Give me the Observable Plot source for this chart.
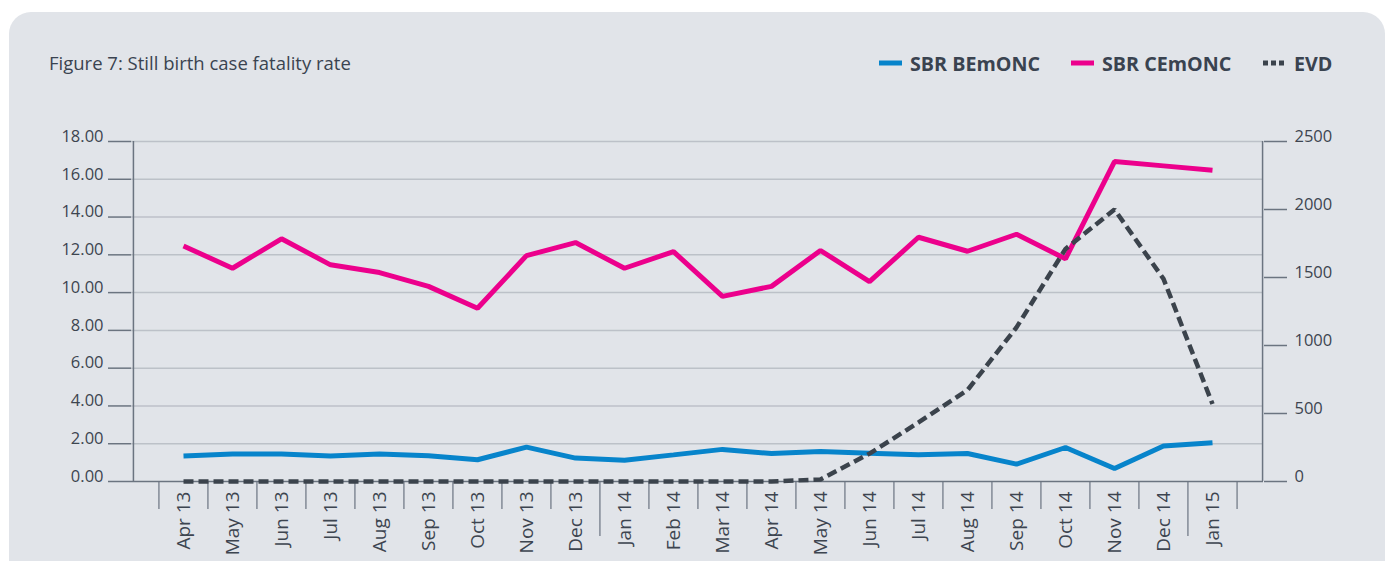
<!DOCTYPE html>
<html>
<head>
<meta charset="utf-8">
<script src="https://cdn.jsdelivr.net/npm/d3@7"></script>
<script src="https://cdn.jsdelivr.net/npm/@observablehq/plot@0.6"></script>
<style>
  html, body { margin: 0; padding: 0; }
  body { background: #ffffff; width: 1388px; height: 561px; overflow: hidden; position: relative; font-family: "Open Sans", sans-serif; }
  #panel { position: absolute; left: 9px; top: 12px; width: 1376px; height: 620px; background: #e1e4e9; border-radius: 22px 22px 0 0; }
  #title { position: absolute; left: 49px; top: 51px; font-size: 18.5px; line-height: 24px; color: #3a4350; white-space: nowrap; }
  .leg { position: absolute; top: 51px; height: 24px; display: flex; align-items: center; font-weight: 700; font-size: 19.7px; color: #3a4350; white-space: nowrap; }
  .leg svg { margin-right: 8px; }
  .chart { position: absolute; left: 0; top: 0; }
</style>
</head>
<body>
<div id="panel"></div>
<div id="title">Figure 7: Still birth case fatality rate</div>
<div class="leg" style="left:879px"><svg width="23" height="6"><line x1="0" x2="23" y1="3" y2="3" stroke="#0784cb" stroke-width="5"/></svg>SBR BEmONC</div>
<div class="leg" style="left:1071px"><svg width="23" height="6"><line x1="0" x2="23" y1="3" y2="3" stroke="#ec008c" stroke-width="5"/></svg>SBR CEmONC</div>
<div class="leg" style="left:1263px"><svg width="23" height="6"><line x1="0" x2="23" y1="3" y2="3" stroke="#3b434c" stroke-width="5" stroke-dasharray="5,3"/></svg>EVD</div>
<div id="c1" class="chart"></div>
<div id="c2" class="chart"></div>
<script>
// ---- data ----
const months = ["Apr 13","May 13","Jun 13","Jul 13","Aug 13","Sep 13","Oct 13","Nov 13","Dec 13","Jan 14","Feb 14","Mar 14","Apr 14","May 14","Jun 14","Jul 14","Aug 14","Sep 14","Oct 14","Nov 14","Dec 14","Jan 15"];
const sbrBemonc = [1.35,1.45,1.45,1.35,1.46,1.36,1.15,1.82,1.24,1.13,1.41,1.70,1.48,1.59,1.50,1.41,1.48,0.92,1.80,0.69,1.88,2.05];
const sbrCemonc = [12.47,11.29,12.85,11.47,11.06,10.33,9.17,11.96,12.65,11.29,12.17,9.80,10.33,12.23,10.58,12.93,12.19,13.09,11.79,16.94,16.71,16.48];
const evd = [0,0,0,0,0,0,0,0,0,0,0,0,0,15,205,434,672,1133,1710,2000,1490,570];
const leftTicks = [0,2,4,6,8,10,12,14,16,18];
const rightTicks = [0,500,1000,1500,2000,2500];
const yearStarts = ["Jan 14","Jan 15"];

// ---- layout ----
const W = 1388, H = 561, mL = 131, mR = 125, mT = 141, mB = 80, inset = 25.5;
const half = (W - mL - mR - 2 * inset) / months.length / 2;
const axisColor = "#6b7480", textColor = "#3d4550", gridColor = "#bcc1c8";

const rows = months.map((m, i) => ({month: m, bemonc: sbrBemonc[i], cemonc: sbrCemonc[i], evd: evd[i]}));

const common = {
  width: W, height: H,
  marginLeft: mL, marginRight: mR, marginTop: mT, marginBottom: mB,
  insetLeft: inset, insetRight: inset,
  style: {background: "transparent", fontFamily: "Open Sans, sans-serif", overflow: "visible"}
};
const xScale = {type: "point", domain: months, padding: 0.5, axis: null};

const p1 = Plot.plot({
  ...common,
  x: xScale,
  y: {domain: [0, 18], axis: null},
  marks: [
    Plot.gridY(leftTicks.slice(1), {stroke: gridColor, strokeOpacity: 1, strokeWidth: 1.5}),
    Plot.axisY(leftTicks, {anchor: "left", tickSize: 23, stroke: axisColor, strokeWidth: 1.5, fill: "none", label: null}),
    Plot.axisY(leftTicks, {anchor: "left", tickSize: 0, tickPadding: 28, dy: -5, tickFormat: d3.format(".2f"), fontSize: 16.5, fill: textColor, label: null}),
    Plot.ruleX([months[0]], {dx: -(inset + half), stroke: axisColor, strokeWidth: 1.5}),
    Plot.ruleY([0], {stroke: axisColor, strokeWidth: 1.5}),
    Plot.axisX(months.filter(m => !yearStarts.includes(m)), {anchor: "bottom", tickSize: 28, dx: -half, stroke: axisColor, strokeWidth: 1.2, fill: "none", label: null}),
    Plot.axisX(yearStarts, {anchor: "bottom", tickSize: 55, dx: -half, stroke: axisColor, strokeWidth: 1.2, fill: "none", label: null}),
    Plot.axisX([months[months.length - 1]], {anchor: "bottom", tickSize: 28, dx: half, stroke: axisColor, strokeWidth: 1.2, fill: "none", label: null}),
    Plot.axisX(months, {anchor: "bottom", tickSize: 0, tickPadding: 10, tickRotate: -90, fontSize: 19, fill: textColor, label: null}),
    Plot.line(rows, {x: "month", y: "cemonc", stroke: "#ec008c", strokeWidth: 5, strokeLinejoin: "miter", strokeLinecap: "butt"}),
    Plot.line(rows, {x: "month", y: "bemonc", stroke: "#0784cb", strokeWidth: 5, strokeLinejoin: "miter", strokeLinecap: "butt"})
  ]
});
document.getElementById("c1").appendChild(p1);

const p2 = Plot.plot({
  ...common,
  x: xScale,
  y: {domain: [0, 2500], axis: null},
  marks: [
    Plot.ruleX([months[months.length - 1]], {dx: inset + half, stroke: axisColor, strokeWidth: 1.5}),
    Plot.axisY(rightTicks, {anchor: "right", tickSize: 23, stroke: axisColor, strokeWidth: 1.5, fill: "none", label: null}),
    Plot.axisY(rightTicks, {anchor: "right", tickSize: 0, tickPadding: 31, dy: -5, tickFormat: d3.format("d"), fontSize: 16.5, fill: textColor, label: null}),
    Plot.line(rows, {x: "month", y: "evd", stroke: "#3b434c", strokeWidth: 4.5, strokeDasharray: "10,5", strokeLinejoin: "miter", strokeLinecap: "butt"})
  ]
});
document.getElementById("c2").appendChild(p2);
</script>
</body>
</html>
